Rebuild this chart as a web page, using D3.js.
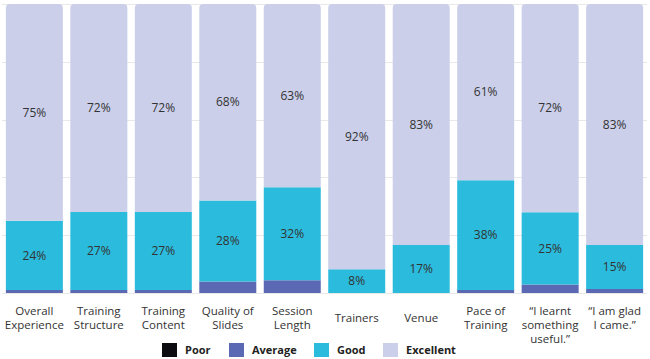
<!DOCTYPE html>
<html>
<head>
<meta charset="utf-8">
<script src="https://cdn.jsdelivr.net/npm/d3@7"></script>
<style>
  body { margin: 0; background: #fff; }
  svg { display: block; font-family: "Open Sans", sans-serif; }
  .pct { font-size: 12px; fill: #333; }
  .cat { font-size: 11.5px; fill: #333; }
  .leg { font-size: 11px; font-weight: bold; fill: #222; }
</style>
</head>
<body>
<div id="chart"></div>
<script>
var categories = [
  ["Overall", "Experience"],
  ["Training", "Structure"],
  ["Training", "Content"],
  ["Quality of", "Slides"],
  ["Session", "Length"],
  ["Trainers"],
  ["Venue"],
  ["Pace of", "Training"],
  ["\u201cI learnt", "something", "useful.\u201d"],
  ["\u201cI am glad", "I came.\u201d"]
];
var seriesNames = ["Poor", "Average", "Good", "Excellent"];
var poor      = [0, 0, 0, 0, 0, 0, 0, 0, 0, 0];
var average   = [1, 1, 1, 4, 4.4, 0, 0, 1, 2.9, 1.4];
var good      = [24, 27, 27, 28, 32.2, 8.2, 16.6, 38, 25, 15.2];
var excellent = [75, 72, 72, 68, 63.4, 91.8, 83.4, 61, 72.1, 83.4];
var yTicks = [0, 20, 40, 60, 80, 100];

var colors = ["#0b0b10", "#5b69b4", "#2bbbdc", "#cbcfea"];

var width = 650, height = 359;
var margin = {top: 4, right: 3, bottom: 66, left: 2};

var svg = d3.select("#chart").append("svg")
  .attr("width", width)
  .attr("height", height);

var x = d3.scaleBand()
  .domain(d3.range(categories.length))
  .range([margin.left, width - margin.right])
  .paddingInner(0.116)
  .paddingOuter(0.06);

var y = d3.scaleLinear()
  .domain([0, 100])
  .range([height - margin.bottom, margin.top]);

// grid
svg.append("g").selectAll("line")
  .data(yTicks)
  .enter().append("line")
  .attr("x1", margin.left)
  .attr("x2", width - margin.right)
  .attr("y1", function(d) { return Math.round(y(d)) + 0.5; })
  .attr("y2", function(d) { return Math.round(y(d)) + 0.5; })
  .attr("stroke", "#e8e8e8")
  .attr("stroke-width", 1);

var rows = categories.map(function(c, i) {
  return {i: i, Poor: poor[i], Average: average[i], Good: good[i], Excellent: excellent[i]};
});
var stacked = d3.stack().keys(seriesNames)(rows);

function topRounded(x0, y0, w, h, r) {
  r = Math.min(r, h, w / 2);
  return "M" + x0 + "," + (y0 + h) +
    "V" + (y0 + r) +
    "Q" + x0 + "," + y0 + " " + (x0 + r) + "," + y0 +
    "H" + (x0 + w - r) +
    "Q" + (x0 + w) + "," + y0 + " " + (x0 + w) + "," + (y0 + r) +
    "V" + (y0 + h) + "Z";
}

var layers = svg.append("g").selectAll("g")
  .data(stacked)
  .enter().append("g")
  .attr("fill", function(d, k) { return colors[k]; });

layers.selectAll("path")
  .data(function(d) { return d.map(function(s) { return {s: s, key: d.key}; }); })
  .enter().append("path")
  .filter(function(d) { return d.s[1] - d.s[0] > 0; })
  .attr("d", function(d) {
    var i = d.s.data.i;
    var y0 = y(d.s[1]), h = y(d.s[0]) - y(d.s[1]);
    var isTop = d.key === "Excellent";
    return topRounded(x(i), y0, x.bandwidth(), h, isTop ? 4 : 0);
  });

// percent labels on Good and Excellent
var labelled = stacked.filter(function(l) { return l.key === "Good" || l.key === "Excellent"; });
svg.append("g").selectAll("g")
  .data(labelled)
  .enter().append("g")
  .selectAll("text")
  .data(function(d) { return d.filter(function(s) { return s[1] - s[0] >= 3; }); })
  .enter().append("text")
  .attr("class", "pct")
  .attr("text-anchor", "middle")
  .attr("dy", "0.35em")
  .attr("x", function(s) { return x(s.data.i) + x.bandwidth() / 2; })
  .attr("y", function(s) { return y((s[0] + s[1]) / 2); })
  .text(function(s) { return Math.round(s[1] - s[0]) + "%"; });

// category labels
var cat = svg.append("g").selectAll("text")
  .data(categories)
  .enter().append("text")
  .attr("class", "cat")
  .attr("text-anchor", "middle")
  .attr("x", function(d, i) { return x(i) + x.bandwidth() / 2; })
  .attr("y", function(d) { return d.length === 1 ? 318 : 311; })
  .attr("dy", "0.35em");
cat.selectAll("tspan")
  .data(function(d) { return d; })
  .enter().append("tspan")
  .attr("x", function() { return d3.select(this.parentNode).attr("x"); })
  .attr("dy", function(d, j) { return j === 0 ? "0.35em" : "14px"; })
  .text(function(d) { return d; });

// legend
var legendX = [162, 229, 314, 383];
var legend = svg.append("g").selectAll("g")
  .data(seriesNames)
  .enter().append("g")
  .attr("transform", function(d, k) { return "translate(" + legendX[k] + ",343)"; });
legend.append("rect")
  .attr("width", 15)
  .attr("height", 14)
  .attr("fill", function(d, k) { return colors[k]; });
legend.append("text")
  .attr("class", "leg")
  .attr("x", 23)
  .attr("y", 7)
  .attr("dy", "0.35em")
  .text(function(d) { return d; });
</script>
</body>
</html>
